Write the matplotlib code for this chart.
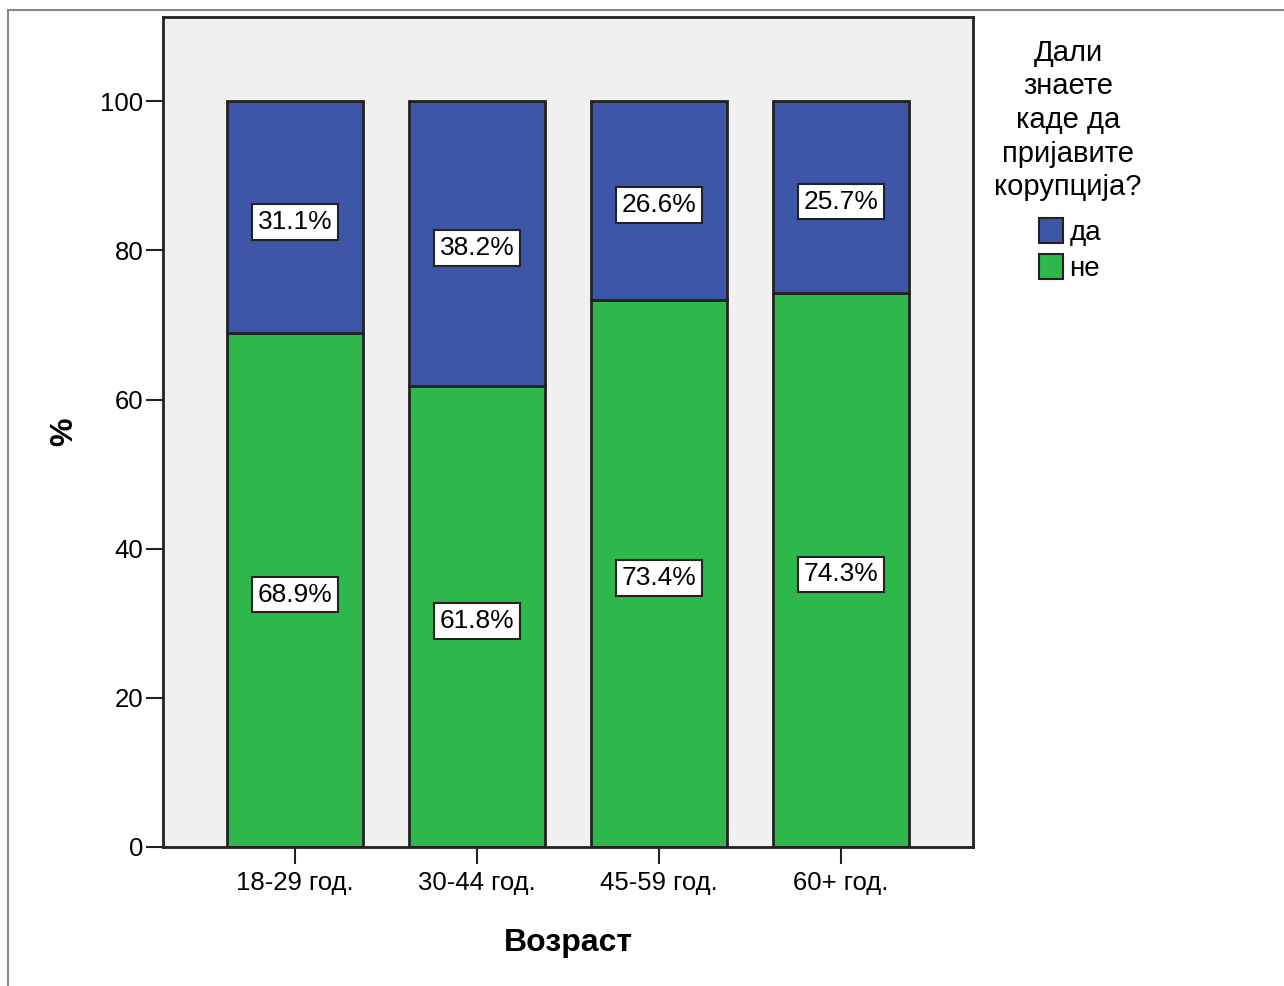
import matplotlib
matplotlib.use('Agg')
import matplotlib.pyplot as plt
from matplotlib.patches import Patch
from matplotlib.lines import Line2D
import numpy as np

plt.rcParams['font.family'] = ['Liberation Sans', 'DejaVu Sans']

ages = ['18-29 год.', '30-44 год.', '45-59 год.', '60+ год.']
da = [31.1, 38.2, 26.6, 25.7]
ne = [68.9, 61.8, 73.4, 74.3]
yticks = [0, 20, 40, 60, 80, 100]

blue = '#3d56a8'
green = '#2eb74a'
edge = '#222222'

fig = plt.figure(figsize=(12.84, 9.86), dpi=100)
ax = fig.add_axes([163/1284, 139/986, 810/1284, 830/986])
ax.set_facecolor('#f0f0f0')

ind = np.arange(len(ages))
width = 0.747
ax.bar(ind, ne, width, color=green, edgecolor=edge, linewidth=2, zorder=2)
ax.bar(ind, da, width, bottom=ne, color=blue, edgecolor=edge, linewidth=2, zorder=2)

box = dict(boxstyle='square,pad=0.22', facecolor='white', edgecolor=edge, linewidth=1.5)
for i in ind:
    ax.text(i, ne[i] / 2 - 0.6, '%.1f%%' % ne[i], ha='center', va='center',
            fontsize=19, bbox=box, zorder=3)
    ax.text(i, ne[i] + da[i] / 2 - 0.6, '%.1f%%' % da[i], ha='center', va='center',
            fontsize=19, bbox=box, zorder=3)

ax.set_xlim(-0.725, 3.725)
ax.set_ylim(0, 111.3)
ax.set_xticks(ind)
ax.set_xticklabels(ages)
ax.set_yticks(yticks)
ax.tick_params(axis='both', length=12, width=1.5, color=edge, labelsize=18.5)
ax.tick_params(axis='x', pad=5)
ax.tick_params(axis='y', pad=2)
for s in ax.spines.values():
    s.set_linewidth(2)
    s.set_color(edge)

ax.set_xlabel('Возраст', fontsize=23, fontweight='bold', labelpad=24)
ax.set_ylabel('%', fontsize=23, fontweight='bold', labelpad=15)

# legend title and entries
fig.text(1068/1284, 1 - 39/986, 'Дали\nзнаете\nкаде да\nпријавите\nкорупција?',
         ha='center', va='top', fontsize=21, linespacing=1.25, multialignment='center')
handles = [Patch(facecolor=blue, edgecolor=edge, linewidth=1.5),
           Patch(facecolor=green, edgecolor=edge, linewidth=1.5)]
fig.legend(handles, ['да', 'не'], loc='upper left', bbox_to_anchor=(1039/1284, 1 - 218/986),
           frameon=False, fontsize=20, handlelength=0.85, handleheight=1.0,
           handletextpad=0.25, labelspacing=0.3, borderaxespad=0, borderpad=0)

# outer frame (top and left)
fig.add_artist(Line2D([8/1284, 1], [1 - 10/986, 1 - 10/986], color='#888888', linewidth=1.5))
fig.add_artist(Line2D([8/1284, 8/1284], [0, 1 - 10/986], color='#888888', linewidth=1.5))

fig.savefig('out.png', dpi=100)
